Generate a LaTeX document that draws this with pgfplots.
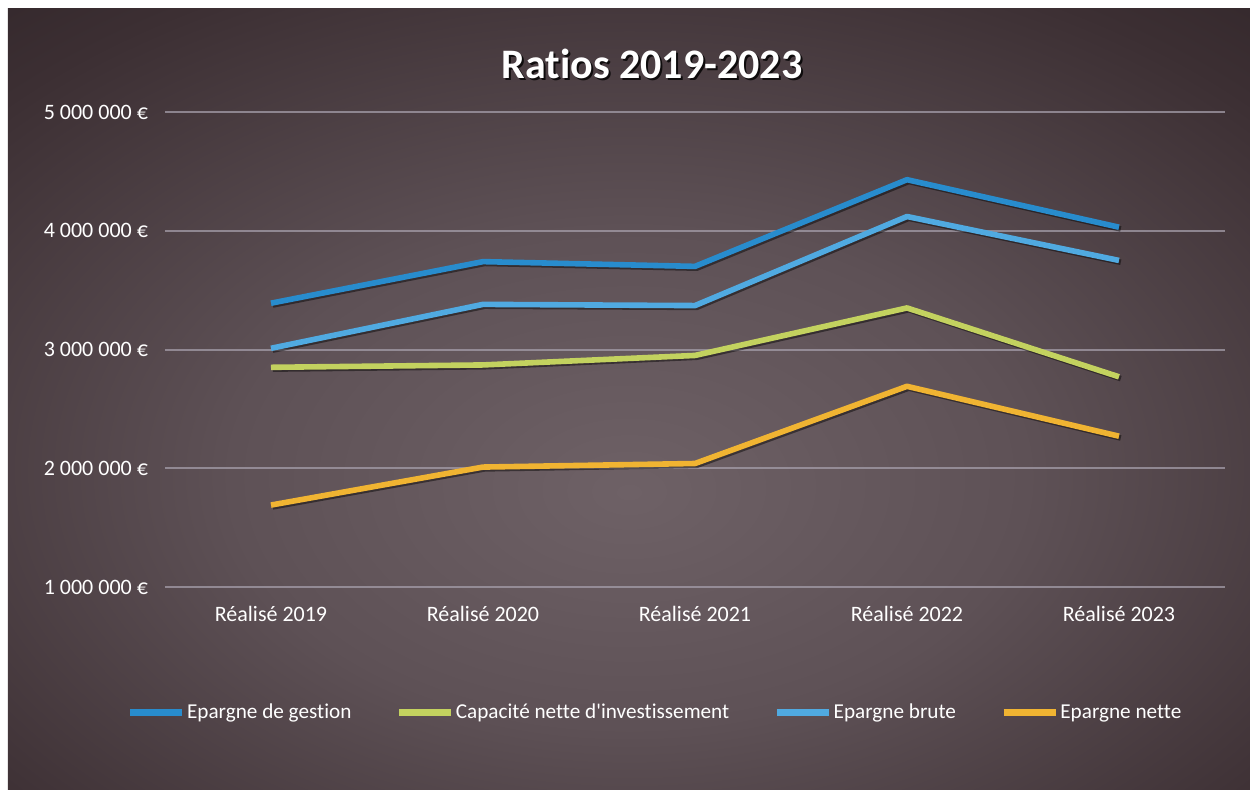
\documentclass[border=0pt]{standalone}
\usepackage{pgfplots}
\pgfplotsset{compat=1.18}
\usepackage{fontspec}
\setmainfont{Carlito}[RawFeature=-liga]
\definecolor{cgest}{RGB}{40,140,205}
\definecolor{cbrute}{RGB}{80,170,225}
\definecolor{ccap}{RGB}{195,210,95}
\definecolor{cnette}{RGB}{240,180,50}
\definecolor{gridc}{RGB}{165,158,170}
\pgfdeclareradialshading{bgshade}{\pgfpoint{0bp}{-6bp}}{%
  color(0bp)=(rgb,255:red,110;green,97;blue,102);
  color(16bp)=(rgb,255:red,94;green,81;blue,86);
  color(34bp)=(rgb,255:red,60;green,47;blue,51);
  color(50bp)=(rgb,255:red,36;green,27;blue,30);
  color(100bp)=(rgb,255:red,29;green,22;blue,25)}
\begin{document}
\begin{tikzpicture}
\useasboundingbox (-82.5pt,-101pt) rectangle (542.5pt,293.5pt);
\fill[white] (-82.5pt,-101pt) rectangle (542.5pt,293.5pt);
\shade[shading=bgshade] (-78.5pt,-101pt) rectangle (542.5pt,289pt);
\begin{axis}[
  at={(0,0)}, anchor=south west,
  scale only axis, width=530pt, height=237.5pt,
  xmin=-0.5, xmax=4.5, ymin=1000000, ymax=5000000,
  scaled y ticks=false,
  xtick={0,1,2,3,4},
  xticklabels={Réalisé 2019,Réalisé 2020,Réalisé 2021,Réalisé 2022,Réalisé 2023},
  ytick={1000000,2000000,3000000,4000000,5000000},
  yticklabels={1 000 000 €,2 000 000 €,3 000 000 €,4 000 000 €,5 000 000 €},
  major tick length=0pt,
  axis line style={draw=none},
  ymajorgrids,
  major grid style={gridc, line width=1pt, opacity=0.75},
  tick label style={font=\fontsize{11}{13}\selectfont, text=white},
  yticklabel style={xshift=-5pt},
  xticklabel style={yshift=-6pt},
  legend style={at={(0.462,-0.265)}, anchor=center, draw=none, fill=none,
    text=white, font=\fontsize{10.6}{13}\selectfont, legend columns=4,
    nodes={inner sep=0.6pt},
    /tikz/every even column/.append style={column sep=21.5pt}},
  legend image code/.code={\draw[line width=3.5pt] (0pt,0pt) -- (26pt,0pt);},
  line join=round,
]
% shadows
\addplot[black, opacity=0.45, line width=2.8pt, xshift=0.9pt, yshift=-0.9pt, forget plot] coordinates {(0,3390000) (1,3740000) (2,3700000) (3,4430000) (4,4030000)};
\addplot[black, opacity=0.45, line width=2.8pt, xshift=0.9pt, yshift=-0.9pt, forget plot] coordinates {(0,2850000) (1,2870000) (2,2950000) (3,3350000) (4,2770000)};
\addplot[black, opacity=0.45, line width=2.8pt, xshift=0.9pt, yshift=-0.9pt, forget plot] coordinates {(0,3010000) (1,3380000) (2,3370000) (3,4120000) (4,3750000)};
\addplot[black, opacity=0.45, line width=2.8pt, xshift=0.9pt, yshift=-0.9pt, forget plot] coordinates {(0,1690000) (1,2010000) (2,2040000) (3,2690000) (4,2270000)};
% series
\addplot[cgest, line width=2.8pt] coordinates {(0,3390000) (1,3740000) (2,3700000) (3,4430000) (4,4030000)};
\addlegendentry{Epargne de gestion}
\addplot[ccap, line width=2.8pt] coordinates {(0,2850000) (1,2870000) (2,2950000) (3,3350000) (4,2770000)};
\addlegendentry{Capacité nette d\textquotesingle investissement}
\addplot[cbrute, line width=2.8pt] coordinates {(0,3010000) (1,3380000) (2,3370000) (3,4120000) (4,3750000)};
\addlegendentry{Epargne brute}
\addplot[cnette, line width=2.8pt] coordinates {(0,1690000) (1,2010000) (2,2040000) (3,2690000) (4,2270000)};
\addlegendentry{Epargne nette}
\end{axis}
\node[black, opacity=0.8, font=\bfseries\fontsize{21}{25}\selectfont] at (244.5pt,260.5pt) {Ratios 2019-2023};
\node[white, font=\bfseries\fontsize{21}{25}\selectfont] at (243.5pt,261.5pt) {Ratios 2019-2023};
\end{tikzpicture}
\end{document}
